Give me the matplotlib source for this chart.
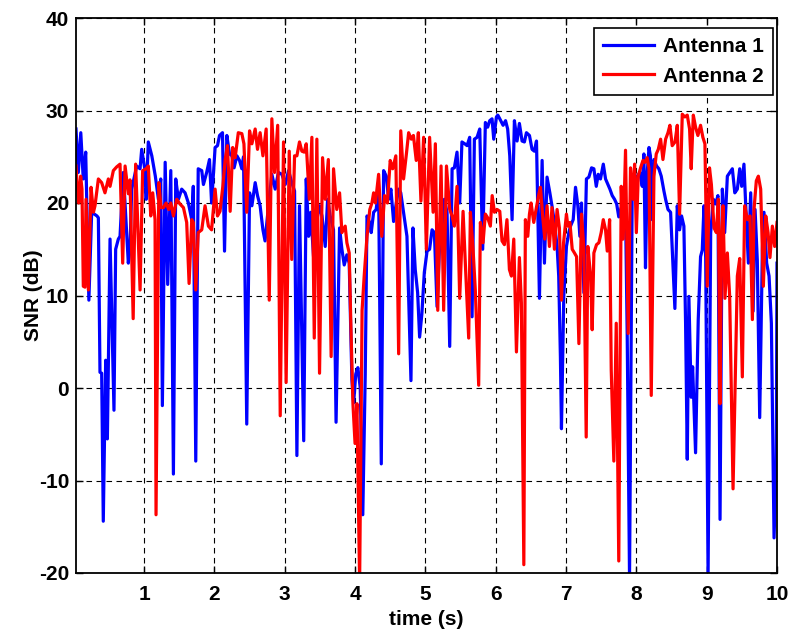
import matplotlib
matplotlib.use("Agg")
import matplotlib.pyplot as plt

# ---------------- data ----------------
time_a1 = [0.032, 0.065, 0.10, 0.135, 0.17, 0.215, 0.255, 0.33, 0.35, 0.373, 0.397, 0.42, 0.454, 0.478,
           0.516, 0.572, 0.596, 0.634, 0.658, 0.705, 0.776, 0.80, 0.824, 0.895, 0.943, 0.966, 1.01, 1.03,
           1.06, 1.11, 1.16, 1.204, 1.237, 1.26, 1.30, 1.336, 1.38, 1.417, 1.45, 1.488, 1.535, 1.583, 1.63,
           1.678, 1.70, 1.735, 1.77, 1.82, 1.844, 1.89, 1.93, 1.96, 2.01, 2.044, 2.073, 2.115, 2.144, 2.177,
           2.215, 2.25, 2.28, 2.32, 2.357, 2.39, 2.414, 2.46, 2.50, 2.533, 2.58, 2.613, 2.65, 2.69, 2.72,
           2.755, 2.817, 2.864, 2.91, 2.96, 3.007, 3.055, 3.10, 3.14, 3.173, 3.21, 3.27, 3.306, 3.34, 3.37,
           3.41, 3.45, 3.495, 3.53, 3.576, 3.61, 3.646, 3.694, 3.73, 3.78, 3.813, 3.846, 3.884, 3.917, 3.955,
           3.98, 4.01, 4.04, 4.074, 4.11, 4.145, 4.17, 4.207, 4.23, 4.264, 4.30, 4.335, 4.373, 4.406, 4.444,
           4.477, 4.51, 4.548, 4.586, 4.62, 4.65, 4.69, 4.738, 4.776, 4.795, 4.823, 4.856, 4.89, 4.918, 4.95,
           4.985, 5.024, 5.06, 5.095, 5.128, 5.166, 5.204, 5.237, 5.27, 5.308, 5.346, 5.38, 5.412, 5.45,
           5.488, 5.52, 5.56, 5.593, 5.63, 5.664, 5.697, 5.735, 5.773, 5.815, 5.853, 5.886, 5.915, 5.948,
           5.972, 6.01, 6.03, 6.058, 6.105, 6.14, 6.17, 6.20, 6.233, 6.266, 6.304, 6.337, 6.375, 6.408,
           6.437, 6.48, 6.517, 6.55, 6.58, 6.622, 6.66, 6.693, 6.73, 6.77, 6.80, 6.835, 6.873, 6.896, 6.92,
           6.935, 6.968, 7.006, 7.04, 7.064, 7.102, 7.135, 7.168, 7.197, 7.22, 7.254, 7.29, 7.325, 7.363,
           7.396, 7.43, 7.458, 7.49, 7.53, 7.562, 7.595, 7.624, 7.657, 7.69, 7.72, 7.75, 7.785, 7.822, 7.85,
           7.87, 7.903, 7.94, 7.974, 8.012, 8.05, 8.084, 8.107, 8.13, 8.155, 8.18, 8.20, 8.226, 8.25, 8.288,
           8.32, 8.354, 8.392, 8.416, 8.45, 8.487, 8.52, 8.548, 8.582, 8.615, 8.643, 8.676, 8.70, 8.724,
           8.747, 8.78, 8.80, 8.842, 8.88, 8.913, 8.937, 8.962, 8.986, 9.02, 9.057, 9.095, 9.128, 9.16, 9.19,
           9.223, 9.256, 9.294, 9.33, 9.365, 9.40, 9.436, 9.47, 9.498, 9.53, 9.564, 9.593, 9.626, 9.66,
           9.688, 9.72, 9.754, 9.792, 9.815, 9.853, 9.887, 9.92, 9.958, 9.99, 10.0]
snr_a1 = [28.0, 23.3, 27.6, 22.6, 25.5, 9.5, 19.0, 18.6, 18.4, 1.7, 1.6, -14.4, 3.0, -5.5,
          16.1, -2.4, 15.0, 16.1, 16.4, 23.3, 13.5, 15.0, 21.5, 24.0, 23.7, 25.8, 23.7, 20.4,
          26.6, 25.1, 22.9, 20.4, 22.6, -1.9, 24.4, 11.2, 23.5, -9.3, 22.6, 20.4, 21.5, 21.1, 20.0,
          18.2, 21.8, -7.9, 23.7, 23.5, 22.0, 23.3, 24.7, 20.0, 26.0, 26.2, 27.3, 27.6, 14.8, 27.3,
          25.3, 25.1, 23.8, 25.1, 24.6, 23.7, 25.0, -3.9, 21.1, 19.7, 22.2, 20.8, 19.7, 17.1, 15.9,
          18.6, 23.1, 21.5, 23.3, 23.1, 22.0, 23.5, 22.2, 21.3, -7.3, 19.7, -5.7, 22.6, 16.4, 19.0,
          14.2, 17.9, 19.7, 18.6, 15.3, 20.4, 18.6, 17.1, -3.7, 17.3, 15.0, 13.3, 14.4, 13.5, 0.9,
          -1.6, 1.5, 2.2, 0.0, -13.7, 1.5, 18.6, 17.9, 16.8, 19.0, 19.3, 21.5, -8.2, 23.5, 22.9,
          20.4, 21.5, 18.0, 20.0, 21.5, 21.1, 19.0, 16.4, 5.9, 0.8, 17.3, 12.8, 10.3, 5.5, 8.0,
          12.5, 14.8, 15.0, 17.1, 16.8, 8.8, 15.7, 17.5, 20.4, 19.0, 4.5, 23.7, 23.8, 25.5,
          20.0, 26.6, 26.4, 26.2, 27.1, 7.7, 26.9, 27.1, 28.0, 15.0, 28.7, 28.2, 28.9, 29.1,
          26.9, 29.3, 29.5, 29.1, 28.4, 28.9, 28.0, 25.1, 18.2, 28.9, 26.7, 28.6, 26.7, 26.6,
          27.6, 27.3, 25.8, 25.6, 26.7, 9.7, 24.6, 13.5, 22.8, 21.1, 19.7, 17.9, 15.3, 12.1, 3.4,
          -4.4, 9.9, 15.3, 16.8, 17.5, 18.2, 21.7, 19.7, 16.4, 20.0, 10.3, 22.6, 22.8, 23.8,
          23.7, 21.8, 23.1, 22.6, 24.2, 22.6, 22.0, 21.5, 20.8, 20.4, 19.9, 18.5, 19.5, 18.6, 17.1,
          5.7, -20.5, 20.4, 21.5, 22.9, 23.3, 21.8, 25.3, 13.0, 23.3, 26.0, 25.1, 18.2, 24.7, 24.0,
          23.7, 22.9, 21.3, 20.4, 19.3, 19.0, 13.5, 8.6, 19.7, 17.1, 18.6, 17.5, 7.0, -7.7,
          9.9, -1.0, 2.3, -7.0, 7.4, 14.2, 14.9, 19.7, 14.0, -20.2, 16.8, 20.4, 19.9, 20.8, -14.2,
          21.5, 16.8, 22.9, 23.3, 23.7, 21.1, 21.5, 23.7, 21.8, 24.2, 18.2, 13.5, 21.1, 8.3,
          19.3, 13.8, -3.2, 15.0, 19.0, 13.5, 12.1, 7.0, -16.2, -8.0, 13.5]

time_a2 = [0.032, 0.05, 0.07, 0.098, 0.117, 0.136, 0.16, 0.174, 0.208, 0.246, 0.28, 0.302, 0.35, 0.397,
           0.444, 0.492, 0.516, 0.563, 0.61, 0.658, 0.696, 0.73, 0.776, 0.80, 0.845, 0.88, 0.943, 0.98,
           1.03, 1.06, 1.095, 1.123, 1.156, 1.17, 1.21, 1.24, 1.275, 1.313, 1.35, 1.38, 1.417, 1.464, 1.51,
           1.56, 1.606, 1.64, 1.678, 1.70, 1.735, 1.77, 1.82, 1.867, 1.915, 1.96, 2.01, 2.044, 2.08, 2.12,
           2.153, 2.186, 2.224, 2.26, 2.295, 2.34, 2.39, 2.42, 2.46, 2.50, 2.533, 2.58, 2.613, 2.65, 2.69,
           2.736, 2.78, 2.817, 2.855, 2.90, 2.936, 2.983, 3.02, 3.064, 3.10, 3.14, 3.173, 3.21, 3.244,
           3.277, 3.306, 3.35, 3.386, 3.42, 3.457, 3.495, 3.538, 3.576, 3.62, 3.66, 3.694, 3.74, 3.78,
           3.813, 3.86, 3.884, 3.917, 3.94, 3.97, 4.0, 4.027, 4.065, 4.10, 4.13, 4.17, 4.21, 4.24, 4.264,
           4.29, 4.335, 4.38, 4.42, 4.46, 4.50, 4.535, 4.58, 4.62, 4.65, 4.69, 4.73, 4.762, 4.80, 4.83,
           4.87, 4.90, 4.937, 4.975, 5.0, 5.014, 5.06, 5.11, 5.142, 5.176, 5.223, 5.26, 5.30, 5.346, 5.38,
           5.412, 5.45, 5.488, 5.536, 5.568, 5.616, 5.64, 5.678, 5.71, 5.758, 5.782, 5.82, 5.853, 5.886,
           5.924, 5.95, 5.982, 6.02, 6.058, 6.09, 6.124, 6.16, 6.195, 6.224, 6.257, 6.295, 6.337, 6.365,
           6.40, 6.422, 6.456, 6.48, 6.503, 6.541, 6.574, 6.612, 6.636, 6.67, 6.698, 6.73, 6.764, 6.80,
           6.835, 6.873, 6.906, 6.935, 6.965, 7.006, 7.026, 7.055, 7.088, 7.12, 7.15, 7.183, 7.22, 7.254,
           7.287, 7.31, 7.35, 7.372, 7.396, 7.434, 7.467, 7.50, 7.53, 7.562, 7.586, 7.62, 7.643, 7.68,
           7.714, 7.75, 7.785, 7.813, 7.846, 7.884, 7.917, 7.956, 7.975, 8.0, 8.027, 8.06, 8.094, 8.122,
           8.155, 8.18, 8.212, 8.25, 8.283, 8.312, 8.345, 8.378, 8.416, 8.45, 8.477, 8.51, 8.55, 8.582,
           8.615, 8.653, 8.69, 8.724, 8.757, 8.78, 8.81, 8.842, 8.875, 8.913, 8.946, 8.975, 9.008, 9.04,
           9.067, 9.105, 9.138, 9.166, 9.19, 9.214, 9.233, 9.26, 9.294, 9.327, 9.375, 9.436, 9.47, 9.507,
           9.54, 9.58, 9.616, 9.65, 9.673, 9.706, 9.735, 9.768, 9.806, 9.84, 9.873, 9.90, 9.934, 9.967,
           10.0]
snr_a2 = [24.0, 21.8, 20.0, 22.9, 21.5, 11.0, 10.9, 20.4, 10.6, 21.7, 19.0, 19.7, 22.6, 22.2,
          21.1, 22.6, 21.8, 23.5, 23.9, 24.2, 13.5, 24.0, 21.0, 22.5, 7.5, 24.2, 10.6, 23.5,
          23.7, 24.0, 18.6, 21.1, 18.2, -13.7, 22.2, 19.5, 19.5, 20.0, 19.3, 20.0, 18.6, 20.4, 19.9,
          19.5, 17.9, 11.3, 18.2, 17.9, 10.6, 16.8, 17.1, 19.7, 17.5, 17.1, 21.5, 18.6, 19.1, 21.8,
          24.7, 26.2, 19.1, 26.0, 24.9, 27.6, 27.5, 26.4, 19.0, 27.8, 26.4, 28.0, 25.8, 27.6, 25.1,
          28.0, 9.5, 29.1, 23.3, 28.4, -3.0, 26.6, 0.6, 25.6, 13.9, 25.1, 25.1, 26.6, 25.6,
          25.5, 26.4, 20.4, 27.1, 5.4, 26.9, 1.6, 24.9, 20.4, 24.7, 3.4, 23.7, 19.3, 21.1,
          16.8, 17.5, 15.7, 14.6, 7.0, -1.7, -6.0, -1.7, -21.0, 8.4, 12.1, 16.4, 19.3, 20.0, 21.1,
          20.0, 23.1, 16.4, 20.8, 20.0, 24.6, 23.7, 25.1, 3.7, 27.8, 22.6, 25.3, 27.6, 26.9, 27.3,
          24.6, 27.6, 20.2, 27.1, 19.5, 15.0, 27.1, 19.0, 26.4, 8.4, 24.0, 8.4, 24.0, 19.3, 18.6,
          17.5, 21.8, 9.7, 19.1, 13.5, 5.4, 19.0, 15.0, 10.6, 0.3, 17.9, 15.7, 18.8, 18.4,
          17.5, 20.8, 19.0, 19.3, 19.1, 15.9, 15.5, 18.2, 12.8, 12.1, 16.1, 3.9, 14.1, 9.2,
          -19.1, 18.2, 16.4, 18.8, 20.0, 17.9, 19.3, 20.9, 21.7, 18.4, 16.1, 19.7, 15.3, 19.5,
          15.0, 19.3, 17.3, 9.5, 15.7, 18.8, 17.5, 17.9, 15.0, 14.6, 14.2, 4.8, 18.8, 15.0,
          -5.3, 15.3, 12.1, 6.3, 14.6, 15.5, 15.7, 16.8, 18.2, 17.1, 14.8, 18.2, 1.9, -7.9,
          7.0, -18.7, 21.8, 16.1, 25.7, 5.9, 23.8, 20.4, 24.2, 16.8, 22.9, 23.8, 24.6, 24.4,
          24.9, 23.7, -0.8, 22.9, 25.3, 25.8, 26.9, 24.7, 26.9, 27.6, 28.4, 26.2, 26.6, 28.4,
          18.8, 29.6, 29.3, 29.5, 28.0, 23.7, 29.5, 28.2, 27.3, 28.4, 27.1, 26.4, 11.0, 23.8,
          22.0, 17.3, 16.8, 20.4, -1.7, 16.8, 19.7, 9.7, 14.6, 9.9, -10.9, 12.1, 14.0, 1.2,
          19.7, 18.2, 18.6, 7.4, 19.3, 22.4, 22.9, 21.5, 11.0, 18.6, 16.8, 14.1, 17.5, 15.3,
          17.9]

x_ticks = [1, 2, 3, 4, 5, 6, 7, 8, 9, 10]
y_ticks = [-20, -10, 0, 10, 20, 30, 40]
series_labels = ["Antenna 1", "Antenna 2"]

# ---------------- plotting ----------------
plt.rcParams['font.family'] = ['Liberation Sans', 'DejaVu Sans']
plt.rcParams['font.weight'] = 'bold'
plt.rcParams['font.size'] = 15

fig = plt.figure(figsize=(7.92, 6.32), dpi=100)
ax = fig.add_axes([76 / 792, 1 - 573 / 632, (777 - 76) / 792, (573 - 18) / 632])

ax.plot(time_a1, snr_a1, color=(0, 0, 1), lw=2.3, label=series_labels[0])
ax.plot(time_a2, snr_a2, color=(1, 0, 0), lw=2.3, label=series_labels[1])

ax.set_xlim(0.032, 10)
ax.set_ylim(-20, 40)
ax.set_xticks(x_ticks)
ax.set_xticklabels([str(v) for v in x_ticks])
ax.set_yticks(y_ticks)
ax.set_yticklabels([str(v) for v in y_ticks])

ax.grid(True, color='black', linestyle=(0, (5, 4)), linewidth=0.8)
ax.tick_params(direction='in', length=5, width=1, top=True, right=True, labelsize=15)
ax.tick_params(axis='y', pad=5)
ax.tick_params(axis='x', pad=9)
for s in ax.spines.values():
    s.set_linewidth(1.3)
    s.set_color('black')

ax.set_xlabel('time (s)', fontsize=15, fontweight='bold', labelpad=4)
ax.set_ylabel('SNR (dB)', fontsize=15, fontweight='bold', labelpad=-3)

leg = ax.legend(loc='upper right', bbox_to_anchor=(0.9943, 0.982), borderaxespad=0,
                fancybox=False, framealpha=1, edgecolor='black', handlelength=2.45,
                handletextpad=0.4, borderpad=0.45, labelspacing=0.5,
                prop={'weight': 'bold', 'size': 15})
leg.get_frame().set_linewidth(1.2)

fig.savefig('out.png', dpi=100)
